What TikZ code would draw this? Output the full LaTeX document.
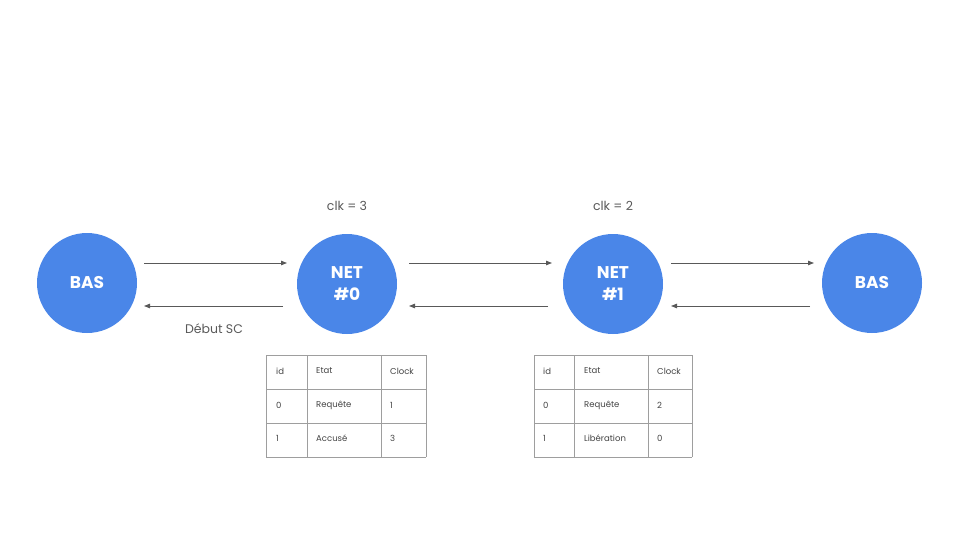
\documentclass[tikz,border=0pt]{standalone}
\usepackage{fontspec}
\setmainfont{Poppins}
\usetikzlibrary{arrows.meta}
\definecolor{nodeblue}{HTML}{4A86E8}
\definecolor{arrowgray}{HTML}{595959}
\definecolor{linegray}{HTML}{9E9E9E}
\definecolor{textgray}{HTML}{595959}
\definecolor{celltext}{HTML}{434343}
\tikzset{
  site/.style={circle,fill=nodeblue,minimum size=100pt,inner sep=0pt,text=white,font=\fontsize{17}{22}\selectfont\bfseries,align=center},
  msg/.style={draw=arrowgray,line width=0.9pt,-{Triangle[length=6pt,width=4.5pt]}},
  lbl/.style={text=textgray,font=\fontsize{12.5}{14}\selectfont},
  cell/.style={anchor=west,text=celltext,font=\fontsize{8.5}{10}\selectfont,inner sep=0pt},
  grid/.style={draw=linegray,line width=0.8pt}
}
\begin{document}
\begin{tikzpicture}[x=1pt,y=-1pt]
\useasboundingbox (0,0) rectangle (960,540);
\node[site] (b0) at (87,283) {BAS};
\node[site] (n0) at (347,284) {NET\\\#0};
\node[site] (n1) at (613,284) {NET\\\#1};
\node[site] (b1) at (872,283) {BAS};
% arrows
\coordinate (a1s) at (144,263); \coordinate (a1e) at (287,263);
\coordinate (a2s) at (283,306); \coordinate (a2e) at (144,306);
\coordinate (a3s) at (409,263); \coordinate (a3e) at (552,263);
\coordinate (a4s) at (548,306); \coordinate (a4e) at (409,306);
\coordinate (a5s) at (671,263); \coordinate (a5e) at (814,263);
\coordinate (a6s) at (810,306); \coordinate (a6e) at (671,306);
\draw[msg] (a1s) -- (a1e);
\draw[msg] (a2s) -- (a2e);
\draw[msg] (a3s) -- (a3e);
\draw[msg] (a4s) -- (a4e);
\draw[msg] (a5s) -- (a5e);
\draw[msg] (a6s) -- (a6e);
\node[lbl] (c0) at (347,206) {clk = 3};
\node[lbl] (c1) at (613,206) {clk = 2};
\node[lbl] (ds) at (214,329) {Début SC};
% table 1
\draw[grid] (266,355) -- (426,355);
\draw[grid] (266,389) -- (426,389);
\draw[grid] (266,423) -- (426,423);
\draw[grid] (266,457) -- (426,457);
\draw[grid] (266,355) -- (266,457);
\draw[grid] (307,355) -- (307,457);
\draw[grid] (381,355) -- (381,457);
\draw[grid] (426,355) -- (426,457);
\node[cell] (t1a) at (276,371) {id};
\node[cell] (t1b) at (316,371) {Etat};
\node[cell] (t1c) at (390,371) {Clock};
\node[cell] (t1d) at (276,405) {0};
\node[cell] (t1e) at (316,405) {Requête};
\node[cell] (t1f) at (390,405) {1};
\node[cell] (t1g) at (276,438) {1};
\node[cell] (t1h) at (316,438) {Accusé};
\node[cell] (t1i) at (390,438) {3};
% table 2
\draw[grid] (534,355) -- (692,355);
\draw[grid] (534,389) -- (692,389);
\draw[grid] (534,423) -- (692,423);
\draw[grid] (534,457) -- (692,457);
\draw[grid] (534,355) -- (534,457);
\draw[grid] (574,355) -- (574,457);
\draw[grid] (648,355) -- (648,457);
\draw[grid] (692,355) -- (692,457);
\node[cell] (t2a) at (543,371) {id};
\node[cell] (t2b) at (584,371) {Etat};
\node[cell] (t2c) at (657,371) {Clock};
\node[cell] (t2d) at (543,405) {0};
\node[cell] (t2e) at (584,405) {Requête};
\node[cell] (t2f) at (657,405) {2};
\node[cell] (t2g) at (543,438) {1};
\node[cell] (t2h) at (584,438) {Libération};
\node[cell] (t2i) at (657,438) {0};
\end{tikzpicture}
\end{document}
